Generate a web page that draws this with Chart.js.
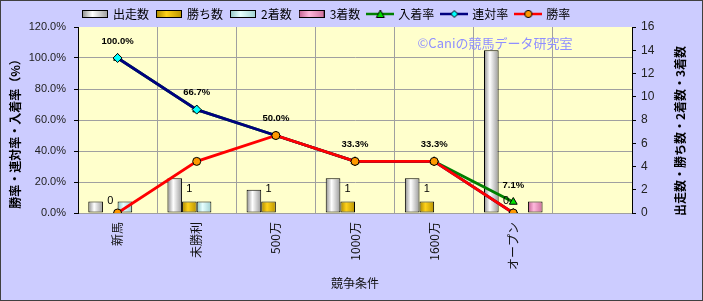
<!DOCTYPE html>
<html>
<head>
<meta charset="utf-8">
<script src="https://cdn.jsdelivr.net/npm/chart.js@4/dist/chart.umd.min.js"></script>
<style>
html, body { margin: 0; padding: 0; background: #CCCCFF; }
canvas { display: block; }
</style>
</head>
<body>
<canvas id="myChart" width="703" height="301"></canvas>
<script>
const categorias = ['新馬', '未勝利', '500万', '1000万', '1600万', 'オープン', ''];
const shussou = [1, 3, 2, 3, 3, 14, null];
const kachi = [0, 1, 1, 1, 1, 0, null];
const nichaku = [1, 1, 0, 0, 0, 0, null];
const sanchaku = [0, 0, 0, 0, 0, 1, null];
const nyuchakuRitsu = [100, 66.7, 50, 33.3, 33.3, 7.1, null];
const rentaiRitsu = [100, 66.7, 50, 33.3, 33.3, 0, null];
const shoRitsu = [0, 33.3, 50, 33.3, 33.3, 0, null];
const ticksPct = [0, 20, 40, 60, 80, 100, 120];
const ticksCount = [0, 2, 4, 6, 8, 10, 12, 14, 16];

const fuente = "'Liberation Sans', 'Noto Sans CJK JP', sans-serif";
const fuenteJP = "'Noto Sans CJK JP', sans-serif";
Chart.defaults.font.family = fuente;
Chart.defaults.color = '#111';

// colores de barras: borde, centro, borde
const coloresBarra = {
    shussou: ['#8c8c8c', '#ffffff', '#9a9a9a'],
    kachi: ['#a88600', '#ffd21a', '#b89300'],
    nichaku: ['#8fc4c4', '#e6ffff', '#9fd0d0'],
    sanchaku: ['#c0608f', '#ffb8dc', '#cc6e9c']
};

function cajaLeyenda(c) {
    const cv = document.createElement('canvas');
    cv.width = 26; cv.height = 10;
    const x = cv.getContext('2d');
    const g = x.createLinearGradient(0, 0, 26, 0);
    g.addColorStop(0, c[0]); g.addColorStop(0.4, c[1]); g.addColorStop(1, c[2]);
    x.fillStyle = g;
    x.fillRect(0, 1, 26, 8);
    x.strokeStyle = '#000';
    x.lineWidth = 1;
    x.strokeRect(0.5, 1.5, 25, 7);
    return cv;
}

function lineaLeyenda(color, relleno, forma) {
    const cv = document.createElement('canvas');
    cv.width = 28; cv.height = 12;
    const x = cv.getContext('2d');
    x.strokeStyle = color;
    x.lineWidth = 2.5;
    x.beginPath(); x.moveTo(0, 6); x.lineTo(28, 6); x.stroke();
    x.fillStyle = relleno;
    x.strokeStyle = '#000';
    x.lineWidth = 1;
    x.beginPath();
    if (forma === 'triangle') {
        x.moveTo(14, 2); x.lineTo(18, 9.5); x.lineTo(10, 9.5); x.closePath();
    } else if (forma === 'rectRot') {
        x.moveTo(14, 2.5); x.lineTo(17.5, 6); x.lineTo(14, 9.5); x.lineTo(10.5, 6); x.closePath();
    } else {
        x.arc(14, 6, 3.6, 0, Math.PI * 2);
    }
    x.fill(); x.stroke();
    return cv;
}

const iconos = [
    cajaLeyenda(coloresBarra.shussou),
    cajaLeyenda(coloresBarra.kachi),
    cajaLeyenda(coloresBarra.nichaku),
    cajaLeyenda(coloresBarra.sanchaku),
    lineaLeyenda('#008000', '#00e000', 'triangle'),
    lineaLeyenda('#000080', '#00ffff', 'rectRot'),
    lineaLeyenda('#ff0000', '#ff9900', 'circle')
];

function barra(label, data, colores, order) {
    return {
        type: 'bar',
        label,
        data,
        yAxisID: 'y1',
        order,
        colores,
        backgroundColor: colores[1],
        borderColor: '#000',
        borderWidth: (c) => (c.raw ? 1 : 0),
        borderSkipped: false,
        categoryPercentage: 0.74,
        barPercentage: 1.0
    };
}

function linea(label, data, color, relleno, forma, radio, order) {
    return {
        type: 'line',
        label,
        data,
        yAxisID: 'y',
        order,
        borderColor: color,
        borderWidth: 2.8,
        backgroundColor: relleno,
        pointStyle: forma,
        pointRadius: radio,
        pointBackgroundColor: relleno,
        pointBorderColor: '#000',
        pointBorderWidth: 1,
        tension: 0,
        spanGaps: false
    };
}

// degradado tipo cilindro en cada barra
const pluginDegradado = {
    id: 'degradado',
    afterDatasetsUpdate(chart) {
        const ctx = chart.ctx;
        chart.data.datasets.forEach((ds, i) => {
            if (ds.type !== 'bar') return;
            chart.getDatasetMeta(i).data.forEach(b => {
                if (!isFinite(b.x) || !b.width) return;
                const g = ctx.createLinearGradient(b.x - b.width / 2, 0, b.x + b.width / 2, 0);
                g.addColorStop(0, ds.colores[0]);
                g.addColorStop(0.4, ds.colores[1]);
                g.addColorStop(1, ds.colores[2]);
                b.options = Object.assign({}, b.options, { backgroundColor: g });
            });
        });
    }
};

const pluginFondo = {
    id: 'fondo',
    beforeInit(chart) {
        const fit = chart.legend.fit;
        chart.legend.fit = function () {
            fit.bind(chart.legend)();
            this.height = 27;
        };
    },
    beforeDraw(chart) {
        const { ctx, chartArea: a } = chart;
        ctx.save();
        ctx.fillStyle = '#CCCCFF';
        ctx.fillRect(0, 0, chart.width, chart.height);
        ctx.fillStyle = '#FFFFCC';
        ctx.fillRect(a.left, a.top, a.right - a.left, a.bottom - a.top);
        ctx.restore();
        chart.legend.left = 75;
    },
    beforeDatasetsDraw(chart) {
        const ctx = chart.ctx;
        ctx.save();
        ctx.font = '13px ' + fuenteJP;
        ctx.fillStyle = '#8f8fff';
        ctx.textAlign = 'center';
        ctx.textBaseline = 'middle';
        ctx.fillText('©Caniの競馬データ研究室', 495, 43);
        ctx.restore();
    },
    afterDatasetsDraw(chart) {
        const ctx = chart.ctx;
        ctx.save();
        ctx.fillStyle = '#000';
        ctx.textAlign = 'center';
        ctx.textBaseline = 'middle';
        ctx.font = '11px ' + fuente;
        chart.getDatasetMeta(1).data.forEach((b, i) => {
            if (kachi[i] === null) return;
            ctx.fillText(String(kachi[i]), b.x, b.y - 12);
        });
        ctx.font = 'bold 9.5px ' + fuente;
        chart.getDatasetMeta(4).data.forEach((p, i) => {
            if (nyuchakuRitsu[i] === null) return;
            ctx.fillText(nyuchakuRitsu[i].toFixed(1) + '%', p.x, p.y - 17);
        });
        ctx.restore();
    },
    afterDraw(chart) {
        const ctx = chart.ctx;
        ctx.save();
        ctx.fillStyle = '#000';
        ctx.font = 'bold 12px ' + fuenteJP;
        ctx.textAlign = 'center';
        ctx.textBaseline = 'middle';
        ctx.translate(15, 131);
        ctx.rotate(-Math.PI / 2);
        ctx.fillText('勝率・連対率・入着率（%）', 0, 0);
        ctx.restore();
        ctx.save();
        ctx.fillStyle = '#000';
        ctx.font = 'bold 12px ' + fuenteJP;
        ctx.textAlign = 'center';
        ctx.textBaseline = 'middle';
        ctx.translate(680, 131);
        ctx.rotate(-Math.PI / 2);
        ctx.fillText('出走数・勝ち数・2着数・3着数', 0, 0);
        ctx.restore();
        ctx.save();
        ctx.strokeStyle = '#404040';
        ctx.lineWidth = 1;
        ctx.strokeRect(0.5, 0.5, chart.width - 1, chart.height - 1);
        ctx.restore();
    }
};

const ctx = document.getElementById('myChart');
const myChart = new Chart(ctx, {
    type: 'bar',
    data: {
        labels: categorias,
        datasets: [
            barra('出走数', shussou, coloresBarra.shussou, 10),
            barra('勝ち数', kachi, coloresBarra.kachi, 11),
            barra('2着数', nichaku, coloresBarra.nichaku, 12),
            barra('3着数', sanchaku, coloresBarra.sanchaku, 13),
            linea('入着率', nyuchakuRitsu, '#008000', '#00e000', 'triangle', 4.5, 3),
            linea('連対率', rentaiRitsu, '#000080', '#00ffff', 'rectRot', 4.5, 2),
            linea('勝率', shoRitsu, '#ff0000', '#ff9900', 'circle', 4, 1)
        ]
    },
    options: {
        responsive: false,
        devicePixelRatio: 1,
        animation: false,
        layout: { padding: 0 },
        plugins: {
            tooltip: { enabled: false },
            legend: {
                position: 'top',
                align: 'start',
                labels: {
                    usePointStyle: true,
                    pointStyleWidth: 24,
                    padding: 8,
                    font: { size: 12, family: fuenteJP },
                    color: '#111',
                    sort: (a, b) => a.datasetIndex - b.datasetIndex,
                    generateLabels: (chart) => chart.data.datasets.map((ds, i) => ({
                        text: ds.label,
                        datasetIndex: i,
                        pointStyle: iconos[i],
                        fillStyle: 'transparent',
                        strokeStyle: 'transparent',
                        lineWidth: 0,
                        hidden: false
                    }))
                }
            }
        },
        scales: {
            x: {
                afterFit: (s) => { s.height = 88; },
                grid: {
                    offset: true,
                    color: '#a0a0a0',
                    borderDash: [2, 2],
                    drawTicks: false
                },
                border: { display: false },
                ticks: {
                    maxRotation: 90,
                    minRotation: 90,
                    padding: 9,
                    font: { size: 12, family: fuenteJP },
                    color: '#111'
                },
                title: {
                    display: true,
                    text: '競争条件',
                    font: { size: 12, family: fuenteJP },
                    color: '#111',
                    padding: { top: 0, bottom: 10 }
                }
            },
            y: {
                position: 'left',
                min: 0,
                max: 120,
                afterFit: (s) => { s.width = 78; },
                afterBuildTicks: (s) => { s.ticks = ticksPct.map(v => ({ value: v })); },
                grid: {
                    color: (c) => (c.tick && c.tick.value === 120 ? 'transparent' : '#a0a0a0'),
                    borderDash: [2, 2],
                    tickColor: '#000',
                    tickBorderDash: [],
                    tickLength: 4
                },
                border: { display: true, color: '#000', width: 1 },
                ticks: {
                    padding: 8,
                    font: { size: 11 },
                    color: '#222',
                    callback: (v) => Number(v).toFixed(1) + '%'
                }
            },
            y1: {
                position: 'right',
                min: 0,
                max: 16,
                afterFit: (s) => { s.width = 71; },
                afterBuildTicks: (s) => { s.ticks = ticksCount.map(v => ({ value: v })); },
                grid: {
                    drawOnChartArea: false,
                    color: '#000',
                    tickLength: 4
                },
                border: { display: true, color: '#000', width: 1 },
                ticks: {
                    padding: 5,
                    font: { size: 12 },
                    color: '#222'
                }
            }
        }
    },
    plugins: [pluginDegradado, pluginFondo]
});
</script>
</body>
</html>
